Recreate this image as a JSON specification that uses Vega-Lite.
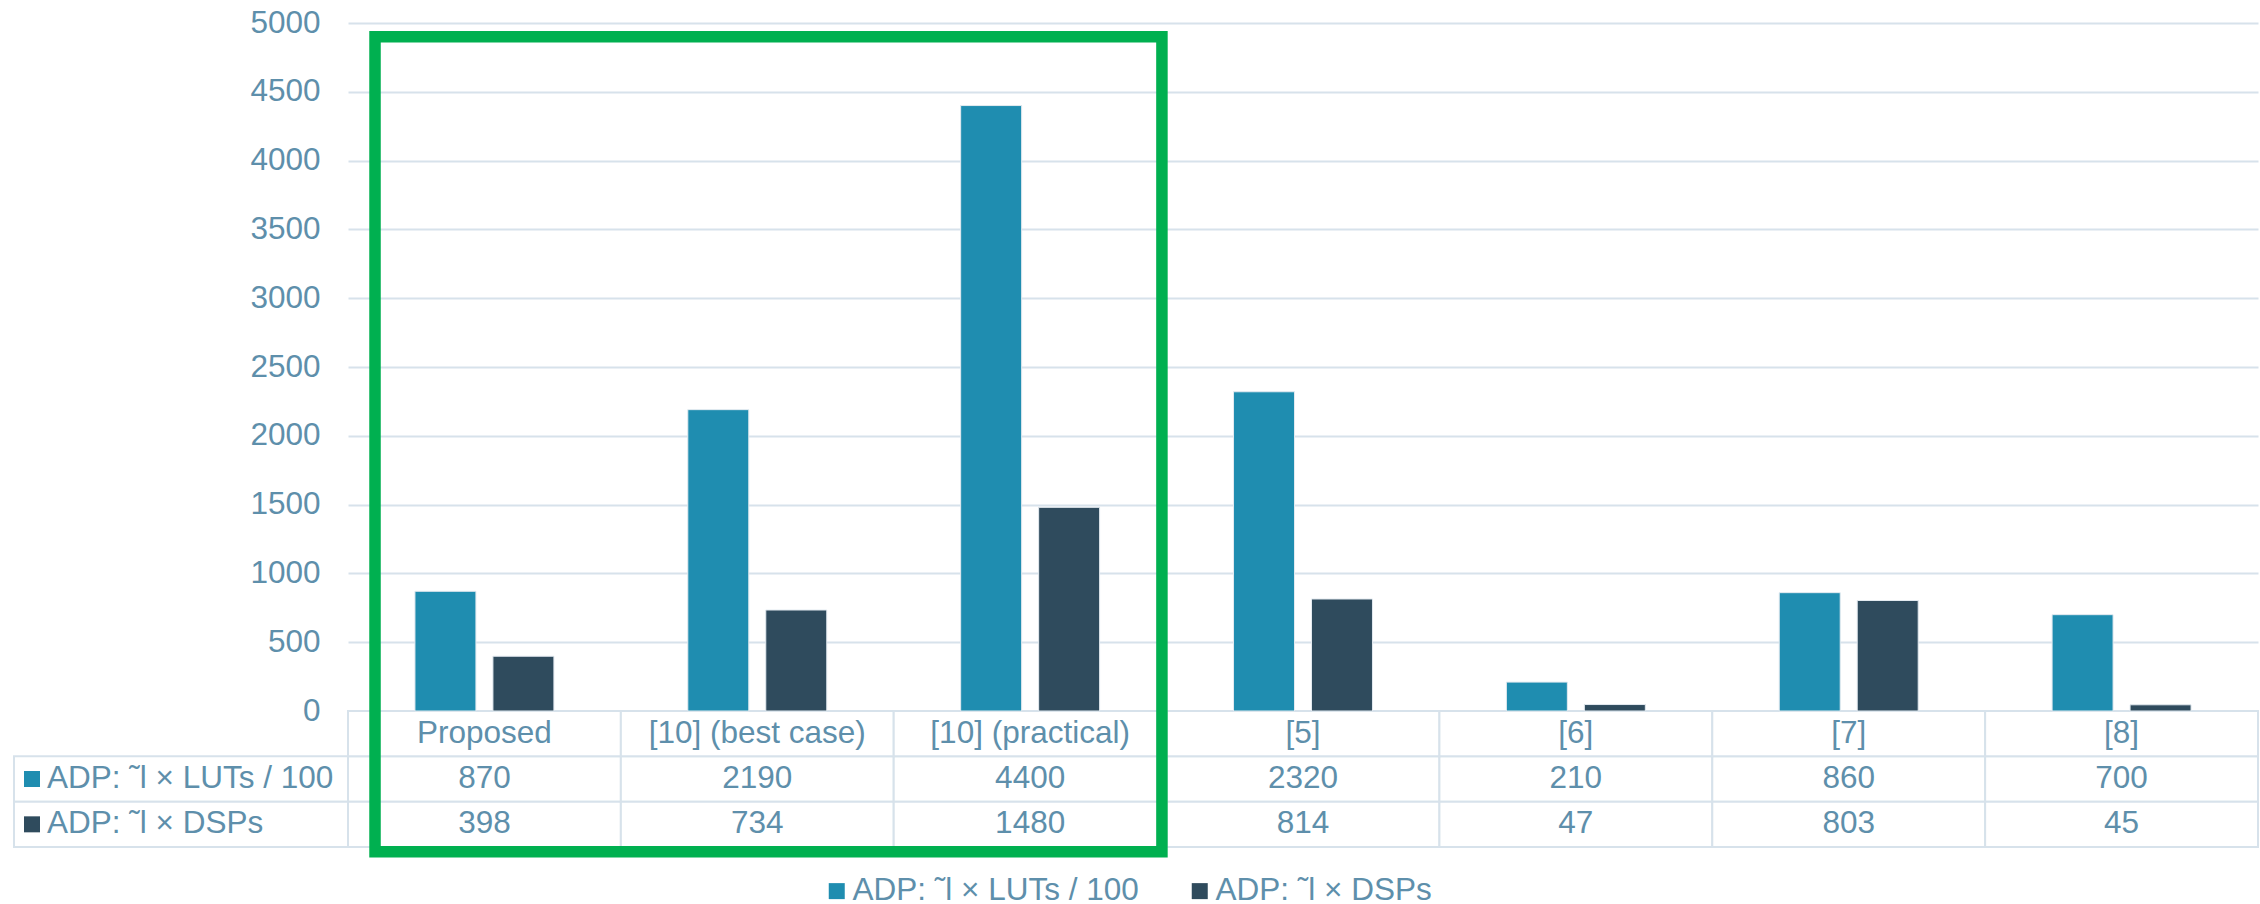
{
  "$schema": "https://vega.github.io/schema/vega-lite/v6.json",
  "width": 1910,
  "height": 688,
  "padding": {"left": 13, "top": 7, "right": 0, "bottom": 0},
  "background": "white",
  "config": {
    "font": "Liberation Sans",
    "view": {"stroke": null},
    "text": {"font": "Liberation Sans", "fontSize": 31.5, "color": "#5e8fab"}
  },
  "data": {
    "values": [
      {"ref": "Proposed", "series": "ADP: ˜l × LUTs / 100", "value": 870},
      {"ref": "Proposed", "series": "ADP: ˜l × DSPs", "value": 398},
      {"ref": "[10] (best case)", "series": "ADP: ˜l × LUTs / 100", "value": 2190},
      {"ref": "[10] (best case)", "series": "ADP: ˜l × DSPs", "value": 734},
      {"ref": "[10] (practical)", "series": "ADP: ˜l × LUTs / 100", "value": 4400},
      {"ref": "[10] (practical)", "series": "ADP: ˜l × DSPs", "value": 1480},
      {"ref": "[5]", "series": "ADP: ˜l × LUTs / 100", "value": 2320},
      {"ref": "[5]", "series": "ADP: ˜l × DSPs", "value": 814},
      {"ref": "[6]", "series": "ADP: ˜l × LUTs / 100", "value": 210},
      {"ref": "[6]", "series": "ADP: ˜l × DSPs", "value": 47},
      {"ref": "[7]", "series": "ADP: ˜l × LUTs / 100", "value": 860},
      {"ref": "[7]", "series": "ADP: ˜l × DSPs", "value": 803},
      {"ref": "[8]", "series": "ADP: ˜l × LUTs / 100", "value": 700},
      {"ref": "[8]", "series": "ADP: ˜l × DSPs", "value": 45}
    ]
  },
  "layer": [
    {
      "encoding": {
        "x": {"field": "ref", "type": "nominal", "axis": null,
          "scale": {"domain": ["Proposed", "[10] (best case)", "[10] (practical)", "[5]", "[6]", "[7]", "[8]"], "paddingInner": 0, "paddingOuter": 0}},
        "y": {"field": "series", "type": "nominal", "axis": null,
          "scale": {"domain": ["header", "ADP: ˜l × LUTs / 100", "ADP: ˜l × DSPs"], "range": [688, 824], "paddingInner": 0, "paddingOuter": 0}}
      },
      "layer": [
        {"mark": {"type": "rect", "fill": "white", "stroke": "#d7e2eb", "strokeWidth": 2}},
        {
          "transform": [{"filter": {"field": "series", "equal": "ADP: ˜l × DSPs"}}],
          "mark": {"type": "rect", "fill": "white", "stroke": "#d7e2eb", "strokeWidth": 2},
          "encoding": {"y": {"datum": "header", "type": "nominal"}}
        },
        {
          "mark": {"type": "text", "align": "center", "fontSize": 31.5, "color": "#5e8fab"},
          "encoding": {"text": {"field": "value", "type": "quantitative", "format": "d"}}
        },
        {
          "transform": [{"filter": {"field": "series", "equal": "ADP: ˜l × DSPs"}}],
          "mark": {"type": "text", "align": "center", "fontSize": 31.5, "color": "#5e8fab"},
          "encoding": {"y": {"datum": "header", "type": "nominal"}, "text": {"field": "ref", "type": "nominal"}}
        }
      ]
    },
    {
      "transform": [{"aggregate": [{"op": "count", "as": "n"}], "groupby": ["series"]}],
      "encoding": {
        "x": {"datum": "label", "type": "nominal", "axis": null,
          "scale": {"domain": ["label"], "range": [-334, 0], "paddingInner": 0, "paddingOuter": 0}},
        "y": {"field": "series", "type": "nominal", "axis": null,
          "scale": {"domain": ["header", "ADP: ˜l × LUTs / 100", "ADP: ˜l × DSPs"], "range": [688, 824], "paddingInner": 0, "paddingOuter": 0}}
      },
      "layer": [
        {"mark": {"type": "rect", "fill": "white", "stroke": "#d7e2eb", "strokeWidth": 2}},
        {
          "mark": {"type": "text", "align": "left", "dx": 33, "fontSize": 31.5, "color": "#5e8fab"},
          "encoding": {"x": {"datum": "label", "type": "nominal", "bandPosition": 0}, "text": {"field": "series", "type": "nominal"}}
        },
        {
          "mark": {"type": "point", "shape": "square", "filled": true, "size": 256, "opacity": 1, "strokeWidth": 0, "xOffset": 18},
          "encoding": {
            "x": {"datum": "label", "type": "nominal", "bandPosition": 0},
            "color": {"field": "series", "type": "nominal",
              "scale": {"domain": ["ADP: ˜l × LUTs / 100", "ADP: ˜l × DSPs"], "range": ["#1f8db0", "#2f4b5d"]},
              "legend": {"orient": "none", "legendX": 473, "legendY": 852, "direction": "horizontal", "title": null,
                "symbolType": "square", "symbolSize": 256, "symbolStrokeWidth": 0,
                "labelFont": "Liberation Sans", "labelFontSize": 31.5, "labelColor": "#5e8fab", "labelLimit": 600,
                "columnPadding": 45, "labelOffset": 0}}
          }
        }
      ]
    },
    {
      "encoding": {
        "x": {"field": "ref", "type": "nominal", "axis": null,
          "scale": {"domain": ["Proposed", "[10] (best case)", "[10] (practical)", "[5]", "[6]", "[7]", "[8]"], "paddingInner": 0, "paddingOuter": 0}}
      },
      "layer": [
        {
          "mark": {"type": "bar", "stroke": "#e3eaf0", "strokeWidth": 1},
          "encoding": {
            "xOffset": {"field": "series", "type": "nominal",
              "scale": {"domain": ["ADP: ˜l × LUTs / 100", "ADP: ˜l × DSPs"], "paddingInner": 0.218, "paddingOuter": 0.8585}},
            "y": {"field": "value", "type": "quantitative",
              "scale": {"domain": [0, 5000], "nice": false},
              "axis": {"values": [0, 500, 1000, 1500, 2000, 2500, 3000, 3500, 4000, 4500, 5000], "format": "d",
                "domain": false, "ticks": false, "tickSize": 0, "title": null,
                "labelFont": "Liberation Sans", "labelFontSize": 31.5, "labelColor": "#5e8fab", "labelPadding": 28,
                "grid": true, "gridColor": "#d7e2eb", "gridWidth": 2}},
            "color": {"field": "series", "type": "nominal",
              "scale": {"domain": ["ADP: ˜l × LUTs / 100", "ADP: ˜l × DSPs"], "range": ["#1f8db0", "#2f4b5d"]},
              "legend": {"orient": "none", "legendX": 473, "legendY": 852, "direction": "horizontal", "title": null,
                "symbolType": "square", "symbolSize": 256, "symbolStrokeWidth": 0,
                "labelFont": "Liberation Sans", "labelFontSize": 31.5, "labelColor": "#5e8fab", "labelLimit": 600,
                "columnPadding": 45, "labelOffset": 0}}
          }
        },
        {
          "data": {"values": [{"from": "Proposed", "to": "[10] (practical)"}]},
          "mark": {"type": "rect", "fill": "white", "fillOpacity": 0, "stroke": "#00b050", "strokeWidth": 11.5},
          "encoding": {
            "x": {"field": "from", "type": "nominal", "bandPosition": 0.099},
            "x2": {"field": "to", "bandPosition": 0.983},
            "y": {"datum": 4900, "type": "quantitative"},
            "y2": {"datum": -1022}
          }
        }
      ]
    }
  ],
  "resolve": {"scale": {"x": "independent", "y": "independent"}}
}
